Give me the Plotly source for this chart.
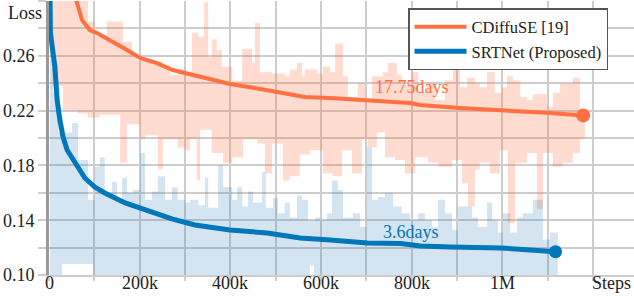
import plotly.graph_objects as go

# ---------------- data (steps in thousands) ----------------
# CDiffuSE [19] raw-loss band (upper / lower envelope)
cdiff_hi_steps = [7, 86, 101, 128, 163, 183, 194, 212, 249, 267, 284, 302, 315, 329, 342, 351, 359, 370,
                  381, 404, 426, 448, 454, 465, 492, 520, 531, 547, 558, 564, 591, 604, 620, 631, 648,
                  659, 681, 697, 712, 736, 747, 767, 778, 800, 814, 836, 851, 873, 891, 906, 922, 939,
                  950, 966, 983, 999, 1010, 1023, 1039, 1054, 1067, 1098, 1111, 1127, 1155, 1171, 1182]
cdiff_hi = [0.340, 0.285, 0.275, 0.285, 0.270, 0.262, 0.257, 0.256, 0.252, 0.246, 0.250, 0.246, 0.277,
            0.274, 0.299, 0.259, 0.272, 0.264, 0.252, 0.242, 0.265, 0.255, 0.284, 0.248, 0.247, 0.245,
            0.250, 0.255, 0.245, 0.250, 0.247, 0.252, 0.248, 0.269, 0.245, 0.230, 0.240, 0.228, 0.245,
            0.248, 0.255, 0.246, 0.239, 0.248, 0.233, 0.240, 0.228, 0.242, 0.255, 0.237, 0.244, 0.240,
            0.237, 0.248, 0.233, 0.237, 0.245, 0.242, 0.230, 0.228, 0.232, 0.223, 0.233, 0.240, 0.244,
            0.220, 0.220]
cdiff_lo_steps = [7, 31, 62, 86, 101, 112, 157, 172, 201, 212, 240, 251, 284, 300, 311, 326, 333, 359,
                  384, 404, 428, 459, 476, 492, 516, 531, 553, 576, 604, 626, 646, 668, 690, 703, 723,
                  741, 763, 785, 807, 836, 858, 889, 911, 924, 939, 950, 972, 994, 1012, 1028, 1054,
                  1076, 1089, 1111, 1133, 1155, 1171, 1182]
cdiff_lo = [0.238, 0.220, 0.218, 0.215, 0.215, 0.217, 0.182, 0.210, 0.199, 0.202, 0.177, 0.199, 0.193,
            0.191, 0.199, 0.169, 0.206, 0.189, 0.182, 0.186, 0.199, 0.196, 0.174, 0.196, 0.169, 0.172,
            0.188, 0.191, 0.174, 0.172, 0.191, 0.174, 0.199, 0.193, 0.204, 0.186, 0.184, 0.174, 0.186,
            0.182, 0.179, 0.184, 0.167, 0.150, 0.177, 0.182, 0.174, 0.191, 0.138, 0.182, 0.189, 0.148,
            0.189, 0.179, 0.182, 0.189, 0.199, 0.199]

# SRTNet (Proposed) raw-loss band
srt_hi_steps = [2, 9, 20, 51, 64, 86, 101, 112, 123, 139, 150, 161, 172, 185, 201, 212, 227, 240, 256,
                271, 284, 300, 311, 329, 344, 351, 373, 384, 404, 415, 426, 439, 450, 470, 478, 494,
                505, 520, 531, 547, 558, 571, 587, 598, 613, 624, 637, 648, 670, 686, 701, 712, 725,
                741, 759, 778, 796, 814, 829, 845, 858, 873, 889, 902, 933, 946, 966, 977, 990, 1001,
                1017, 1032, 1045, 1067, 1089, 1105, 1122]
srt_hi = [0.330, 0.233, 0.204, 0.211, 0.184, 0.155, 0.179, 0.186, 0.160, 0.168, 0.155, 0.171, 0.160,
          0.162, 0.189, 0.155, 0.161, 0.172, 0.155, 0.164, 0.155, 0.153, 0.155, 0.151, 0.171, 0.149,
          0.180, 0.164, 0.155, 0.164, 0.150, 0.161, 0.153, 0.175, 0.149, 0.156, 0.145, 0.153, 0.142,
          0.158, 0.155, 0.140, 0.142, 0.140, 0.145, 0.169, 0.162, 0.142, 0.145, 0.135, 0.193, 0.155,
          0.157, 0.160, 0.150, 0.145, 0.140, 0.145, 0.140, 0.135, 0.155, 0.145, 0.133, 0.150, 0.142,
          0.135, 0.153, 0.140, 0.131, 0.145, 0.131, 0.142, 0.145, 0.155, 0.126, 0.131, 0.131]
srt_lo_steps = [2, 29, 97, 575, 584, 1122]
srt_lo = [0.090, 0.108, 0.090, 0.107, 0.090, 0.090]

# smoothed curves
cdiff_smooth_steps = [5, 30, 50, 60, 73, 90, 106, 134, 172, 201, 238, 273, 333, 377, 399, 454, 498, 564,
                      620, 686, 741, 796, 818, 906, 1105, 1178]
cdiff_smooth = [0.400, 0.340, 0.315, 0.3007, 0.2861, 0.2788, 0.2766, 0.2715, 0.2642, 0.2584, 0.2547,
                0.2496, 0.2445, 0.2409, 0.2394, 0.2365, 0.2336, 0.2299, 0.2292, 0.2277, 0.2263, 0.2255,
                0.2241, 0.2219, 0.2182, 0.2165]
srt_smooth_steps = [0, 1, 3, 13, 18, 24, 31, 40, 62, 79, 101, 123, 168, 212, 271, 322, 399, 481, 554,
                    620, 702, 775, 819, 885, 996, 1061, 1117]
srt_smooth = [0.360, 0.300, 0.277, 0.2518, 0.2277, 0.2131, 0.2007, 0.1912, 0.1788, 0.1708, 0.1642,
              0.1599, 0.1526, 0.1474, 0.1409, 0.1365, 0.1328, 0.1307, 0.1270, 0.1255, 0.1234, 0.1230,
              0.1212, 0.1204, 0.1197, 0.1183, 0.1170]

series_names = ["CDiffuSE [19]", "SRTNet (Proposed)"]
end_labels = ["17.75days", "3.6days"]

x_tickvals_k = [0, 100, 200, 300, 400, 500, 600, 700, 800, 900, 1000, 1100, 1200]
x_ticklabels = ["0", "", "200k", "", "400k", "", "600k", "", "800k", "", "1M", "", ""]
y_tickvals = [0.10, 0.12, 0.14, 0.16, 0.18, 0.20, 0.22, 0.24, 0.26, 0.28, 0.30]
y_ticklabels = ["0.10", "", "0.14", "", "0.18", "", "0.22", "", "0.26", "", ""]

ORANGE = "#ff7043"
BLUE = "#0077bb"
GRID = "#cdcdcd"
FONT = "Liberation Serif, Tinos, Times New Roman, Times, DejaVu Serif, serif"


def k(v):
    return [s * 1000 for s in v]


fig = go.Figure()

# orange band
fig.add_trace(go.Scatter(x=k(cdiff_lo_steps), y=cdiff_lo, mode="lines", line=dict(width=0, shape="hv"),
                         showlegend=False, hoverinfo="skip"))
fig.add_trace(go.Scatter(x=k(cdiff_hi_steps), y=cdiff_hi, mode="lines", line=dict(width=0, shape="hv"),
                         fill="tonexty", fillcolor="rgba(255,112,67,0.25)", showlegend=False,
                         hoverinfo="skip"))
# blue band
fig.add_trace(go.Scatter(x=k(srt_lo_steps), y=srt_lo, mode="lines", line=dict(width=0, shape="hv"),
                         showlegend=False, hoverinfo="skip"))
fig.add_trace(go.Scatter(x=k(srt_hi_steps), y=srt_hi, mode="lines", line=dict(width=0, shape="hv"),
                         fill="tonexty", fillcolor="rgba(40,120,180,0.2)", showlegend=False,
                         hoverinfo="skip"))

# smoothed lines
fig.add_trace(go.Scatter(x=k(cdiff_smooth_steps), y=cdiff_smooth, mode="lines", name=series_names[0],
                         line=dict(color=ORANGE, width=4)))
fig.add_trace(go.Scatter(x=k(srt_smooth_steps), y=srt_smooth, mode="lines", name=series_names[1],
                         line=dict(color=BLUE, width=5)))
# end markers
fig.add_trace(go.Scatter(x=[cdiff_smooth_steps[-1] * 1000], y=[cdiff_smooth[-1]], mode="markers",
                         marker=dict(color=ORANGE, size=14), showlegend=False))
fig.add_trace(go.Scatter(x=[srt_smooth_steps[-1] * 1000], y=[srt_smooth[-1]], mode="markers",
                         marker=dict(color=BLUE, size=13), showlegend=False))

# end labels
fig.add_annotation(x=800000, y=0.2375, text=end_labels[0], showarrow=False,
                   font=dict(family=FONT, size=18, color=ORANGE), xanchor="center", yanchor="middle")
fig.add_annotation(x=798000, y=0.1315, text=end_labels[1], showarrow=False,
                   font=dict(family=FONT, size=18, color=BLUE), xanchor="center", yanchor="middle")

# x tick labels placed on the x scale, just below the axis
for tv, tl in zip(x_tickvals_k, x_ticklabels):
    if tl:
        fig.add_annotation(x=tv * 1000, xref="x", yref="paper", y=-0.03, text=tl, showarrow=False,
                           font=dict(family=FONT, size=18, color="#222"),
                           xanchor="center", yanchor="middle")

# axis titles
fig.add_annotation(xref="paper", yref="paper", x=-0.041, y=0.956, text="Loss", showarrow=False,
                   font=dict(family=FONT, size=18, color="#222"), xanchor="center", yanchor="middle")
fig.add_annotation(xref="paper", yref="paper", x=0.9607, y=-0.03, text="Steps", showarrow=False,
                   font=dict(family=FONT, size=18, color="#222"), xanchor="center", yanchor="middle")

fig.update_layout(
    width=634, height=296,
    margin=dict(l=49, r=0, t=1, b=21, pad=0),
    paper_bgcolor="white", plot_bgcolor="white",
    font=dict(family=FONT, size=18, color="#222"),
    legend=dict(x=0.6137, y=0.974, xanchor="left", yanchor="top", bgcolor="white", traceorder="normal",
                bordercolor="#555", borderwidth=1.5, font=dict(family=FONT, size=16.5, color="#222"),
                itemwidth=52, tracegroupgap=0),
    xaxis=dict(range=[0, 1290000], tickvals=k(x_tickvals_k), showticklabels=False,
               showgrid=True, gridcolor=GRID, gridwidth=1.5, zeroline=False,
               showline=True, linecolor=GRID, linewidth=1.5, automargin=False,
               ticks="outside", ticklen=4, tickcolor=GRID, tickwidth=1.5,
               layer="below traces"),
    yaxis=dict(range=[0.10, 0.30], tickvals=y_tickvals, ticktext=y_ticklabels,
               showgrid=True, gridcolor=GRID, gridwidth=1.5, zeroline=False,
               showline=True, linecolor="#9a9a9a", linewidth=3, automargin=False,
               ticks="outside", ticklen=8, tickcolor=GRID, tickwidth=1.5,
               ticklabelstandoff=0,
               tickfont=dict(family=FONT, size=18, color="#222"), layer="below traces"),
)

fig.write_html("out.html", post_script="document.body.style.margin='0';",
               config={"displayModeBar": False})
